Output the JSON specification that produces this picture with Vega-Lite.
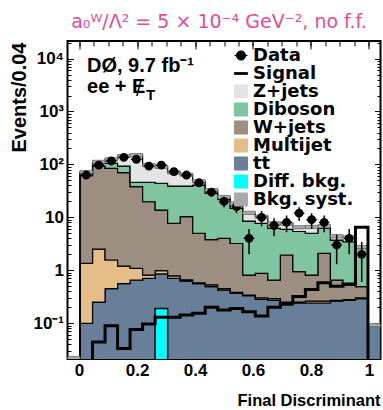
{
  "$schema": "https://vega.github.io/schema/vega-lite/v6.json",
  "width": 313,
  "height": 318,
  "autosize": {"type": "none"},
  "padding": {"left": 67.5, "top": 41, "right": 2.5, "bottom": 51},
  "title": {"text": "a₀ᵂ/Λ² = 5 × 10⁻⁴ GeV⁻², no f.f.", "color": "#e64b9a", "font": "DejaVu Sans", "fontSize": 19, "fontWeight": "normal", "anchor": "middle", "frame": "group", "baseline": "alphabetic", "offset": -6, "dx": -5},
  "config": {
    "view": {"stroke": "black", "strokeWidth": 2},
    "axis": {"labelFont": "Liberation Sans", "labelFontWeight": "bold", "labelColor": "black", "titleFont": "Liberation Sans", "titleFontWeight": "bold", "titleColor": "black", "domain": false, "grid": false, "tickColor": "black", "tickWidth": 1},
    "legend": {"symbolStrokeColor": "black", "symbolStrokeWidth": 1}
  },
  "datasets": {
    "h": [
      {"from": -0.04, "to": 0.0032, "tt̄": 0, "Multijet": 0, "W+jets": 0, "Diboson": 0, "Z+jets": 0.022, "signal": 0, "diffbkg": 0, "data": null, "err": null, "syst": 0.0015},
      {"from": 0.0032, "to": 0.0464, "tt̄": 0.099, "Multijet": 1.25, "W+jets": 59.65, "Diboson": 7, "Z+jets": 4, "signal": 0, "diffbkg": 0, "data": 63, "err": 7.9, "syst": 5.0},
      {"from": 0.0464, "to": 0.0896, "tt̄": 0.25, "Multijet": 2.25, "W+jets": 90.5, "Diboson": 12, "Z+jets": 7, "signal": 0.044, "diffbkg": 0, "data": 97, "err": 9.8, "syst": 7.8},
      {"from": 0.0896, "to": 0.1328, "tt̄": 0.45, "Multijet": 1.11, "W+jets": 82.44, "Diboson": 21, "Z+jets": 20, "signal": 0.089, "diffbkg": 0, "data": 116, "err": 10.8, "syst": 8.7},
      {"from": 0.1328, "to": 0.176, "tt̄": 0.56, "Multijet": 0.64, "W+jets": 68.8, "Diboson": 23, "Z+jets": 51, "signal": 0.033, "diffbkg": 0, "data": 136, "err": 11.7, "syst": 10},
      {"from": 0.176, "to": 0.2192, "tt̄": 0.65, "Multijet": 0.43, "W+jets": 36.92, "Diboson": 8, "Z+jets": 104, "signal": 0.076, "diffbkg": 0, "data": 125, "err": 11.2, "syst": 10.5},
      {"from": 0.2192, "to": 0.2624, "tt̄": 0.7, "Multijet": 0.11, "W+jets": 18.89, "Diboson": 26.3, "Z+jets": 51, "signal": 0.096, "diffbkg": 0, "data": 93, "err": 9.6, "syst": 6.8},
      {"from": 0.2624, "to": 0.3056, "tt̄": 0.85, "Multijet": 0.13, "W+jets": 12.72, "Diboson": 30.3, "Z+jets": 46, "signal": 0.129, "diffbkg": 0.19, "data": 97, "err": 9.8, "syst": 6.3},
      {"from": 0.3056, "to": 0.3488, "tt̄": 0.7, "Multijet": 0.08, "W+jets": 6.92, "Diboson": 31.3, "Z+jets": 32, "signal": 0.129, "diffbkg": 0, "data": 73, "err": 8.5, "syst": 5},
      {"from": 0.3488, "to": 0.392, "tt̄": 0.62, "Multijet": 0.04, "W+jets": 9.64, "Diboson": 28.7, "Z+jets": 25, "signal": 0.142, "diffbkg": 0, "data": 63, "err": 7.9, "syst": 4.5},
      {"from": 0.392, "to": 0.4352, "tt̄": 0.56, "Multijet": 0.02, "W+jets": 4.42, "Diboson": 35.6, "Z+jets": 7.4, "signal": 0.153, "diffbkg": 0, "data": 45, "err": 6.7, "syst": 3.4},
      {"from": 0.4352, "to": 0.4784, "tt̄": 0.49, "Multijet": 0.04, "W+jets": 3.27, "Diboson": 24.6, "Z+jets": 4.2, "signal": 0.2, "diffbkg": 0, "data": 30, "err": 5.5, "syst": 2.3},
      {"from": 0.4784, "to": 0.5216, "tt̄": 0.42, "Multijet": 0.03, "W+jets": 3.55, "Diboson": 18, "Z+jets": 2.2, "signal": 0.177, "diffbkg": 0, "data": 20, "err": 4.5, "syst": 1.7},
      {"from": 0.5216, "to": 0.5648, "tt̄": 0.37, "Multijet": 0.01, "W+jets": 2.82, "Diboson": 11.6, "Z+jets": 3.6, "signal": 0.19, "diffbkg": 0, "data": 16, "err": 4, "syst": 1.3},
      {"from": 0.5648, "to": 0.608, "tt̄": 0.33, "Multijet": 0.01, "W+jets": 0.47, "Diboson": 7.69, "Z+jets": 3.7, "signal": 0.165, "diffbkg": 0, "data": 4, "err": 2, "syst": 0.85},
      {"from": 0.608, "to": 0.6512, "tt̄": 0.28, "Multijet": 0.02, "W+jets": 0.57, "Diboson": 6.83, "Z+jets": 2.6, "signal": 0.136, "diffbkg": 0, "data": 10, "err": 3.2, "syst": 0.72},
      {"from": 0.6512, "to": 0.6944, "tt̄": 0.27, "Multijet": 0.02, "W+jets": 0.36, "Diboson": 5.55, "Z+jets": 1.5, "signal": 0.2, "diffbkg": 0, "data": 7, "err": 2.6, "syst": 0.54},
      {"from": 0.6944, "to": 0.7376, "tt̄": 0.22, "Multijet": 0.01, "W+jets": 1.71, "Diboson": 3.96, "Z+jets": 1.7, "signal": 0.24, "diffbkg": 0, "data": 8, "err": 2.8, "syst": 0.53},
      {"from": 0.7376, "to": 0.7808, "tt̄": 0.24, "Multijet": 0.01, "W+jets": 0.69, "Diboson": 4.46, "Z+jets": 1.1, "signal": 0.32, "diffbkg": 0, "data": 12, "err": 3.5, "syst": 0.46},
      {"from": 0.7808, "to": 0.824, "tt̄": 0.24, "Multijet": 0.02, "W+jets": 0.55, "Diboson": 4.19, "Z+jets": 1.6, "signal": 0.43, "diffbkg": 0, "data": 9, "err": 3, "syst": 0.46},
      {"from": 0.824, "to": 0.8672, "tt̄": 0.24, "Multijet": 0.02, "W+jets": 1.82, "Diboson": 4.12, "Z+jets": 0.6, "signal": 0.58, "diffbkg": 0, "data": 8, "err": 2.8, "syst": 0.48},
      {"from": 0.8672, "to": 0.9104, "tt̄": 0.26, "Multijet": 0.01, "W+jets": 0.38, "Diboson": 3.05, "Z+jets": 0.7, "signal": 0.5, "diffbkg": 0, "data": 3, "err": 1.7, "syst": 0.31},
      {"from": 0.9104, "to": 0.9536, "tt̄": 0.27, "Multijet": 0.01, "W+jets": 0.25, "Diboson": 2.92, "Z+jets": 0.75, "signal": 0.55, "diffbkg": 0, "data": 4, "err": 2, "syst": 0.29},
      {"from": 0.9536, "to": 0.9968, "tt̄": 0.29, "Multijet": 0.01, "W+jets": 0.19, "Diboson": 2.11, "Z+jets": 0.15, "signal": 6.5, "diffbkg": 0, "data": 2, "err": 1.4, "syst": 0.19},
      {"from": 0.9968, "to": 1.04, "tt̄": 0.092, "Multijet": 0, "W+jets": 0, "Diboson": 0, "Z+jets": 0, "signal": 0, "diffbkg": 0, "data": null, "err": null, "syst": 0.006}
    ]
  },
  "resolve": {"axis": {"x": "independent", "y": "independent"}},
  "layer": [
    {
      "data": {"name": "h"},
      "transform": [
        {"fold": ["tt̄", "Multijet", "W+jets", "Diboson", "Z+jets"], "as": ["process", "events"]},
        {"calculate": "indexof(['tt̄','Multijet','W+jets','Diboson','Z+jets'], datum.process)", "as": "ord"},
        {"stack": "events", "groupby": ["from"], "sort": [{"field": "ord", "order": "ascending"}], "as": ["s0", "s1"]},
        {"calculate": "max(datum.s0, 0.001)", "as": "lo"},
        {"calculate": "max(datum.s1, 0.001)", "as": "hi"},
        {"fold": ["from", "to"], "as": ["edge", "xpos"]}
      ],
      "mark": {"type": "area", "interpolate": "linear", "stroke": "black", "strokeWidth": 1.2, "opacity": 1, "clip": true},
      "encoding": {
        "x": {"field": "xpos", "type": "quantitative", "scale": {"domain": [-0.04, 1.04], "nice": false, "zero": false},
          "axis": {"orient": "bottom", "values": [0, 0.2, 0.4, 0.6, 0.8, 1], "format": ".1~f", "tickSize": -10, "labelPadding": 13, "labelFontSize": 17, "title": "Final Discriminant", "titleFontSize": 16.5, "titleAlign": "right", "titleAnchor": "end", "titleX": 312.5, "titleY": 46, "titleBaseline": "alphabetic"}},
        "y": {"field": "hi", "type": "quantitative", "scale": {"type": "log", "domain": [0.021, 21500], "nice": false},
          "axis": {"orient": "left", "values": [0.1, 1, 10, 100, 1000, 10000], "labelExpr": "datum.value > 5000 ? '10⁴' : datum.value > 500 ? '10³' : datum.value > 50 ? '10²' : datum.value > 5 ? '10' : datum.value > 0.5 ? '1' : '10⁻¹'", "tickSize": -6, "labelPadding": 10, "labelFontSize": 17, "title": "Events/0.04", "titleFontSize": 20, "titleAngle": -90, "titleAlign": "right", "titleBaseline": "alphabetic", "titleX": -42.5, "titleY": 1}},
        "y2": {"field": "lo"},
        "color": {"field": "process", "type": "nominal",
          "scale": {"domain": ["Data", "Signal", "Z+jets", "Diboson", "W+jets", "Multijet", "tt̄", "Diff. bkg.", "Bkg. syst."],
                    "range": ["black", "black", "#e4e4e4", "#80c4a0", "#9c8f81", "#e5bd89", "#677f98", "#00ffff", "#a9a9a9"]},
          "legend": {"title": null, "orient": "none", "legendX": 164.5, "legendY": 5.5, "padding": 0, "labelFont": "DejaVu Sans", "labelFontWeight": "bold", "labelFontSize": 18, "labelColor": "black", "symbolSize": 170, "symbolStrokeColor": "black", "symbolStrokeWidth": 1, "rowPadding": 0, "labelOffset": 3,
            "encode": {"symbols": {"stroke": {"value": "black"}, "strokeWidth": {"value": 1}, "opacity": {"value": 1}}}}},
        "order": [{"field": "xpos", "type": "quantitative"}, {"field": "edge", "type": "nominal", "sort": "descending"}]
      }
    },
    {
      "data": {"name": "h"},
      "transform": [{"filter": "datum.diffbkg > 0"}],
      "mark": {"type": "rect", "stroke": "black", "strokeWidth": 1.5, "opacity": 1, "clip": true},
      "encoding": {
        "x": {"field": "from", "type": "quantitative", "scale": {"domain": [-0.04, 1.04], "nice": false, "zero": false}, "axis": null},
        "x2": {"field": "to"},
        "y": {"field": "diffbkg", "type": "quantitative", "scale": {"type": "log", "domain": [0.021, 21500], "nice": false}, "axis": null},
        "y2": {"datum": 0.001},
        "color": {"datum": "Diff. bkg."}
      }
    },
    {
      "data": {"name": "h"},
      "transform": [
        {"calculate": "datum['tt̄'] + datum['Multijet'] + datum['W+jets'] + datum['Diboson'] + datum['Z+jets']", "as": "total"},
        {"calculate": "datum.total - datum.syst", "as": "bl"},
        {"calculate": "datum.total + datum.syst", "as": "bh"}
      ],
      "mark": {"type": "rect", "stroke": "#6a6a6a", "strokeWidth": 0.8, "opacity": 1, "clip": true},
      "encoding": {
        "x": {"field": "from", "type": "quantitative", "scale": {"domain": [-0.04, 1.04], "nice": false, "zero": false},
          "axis": {"orient": "bottom", "values": [0, 0.05, 0.1, 0.15, 0.2, 0.25, 0.3, 0.35, 0.4, 0.45, 0.5, 0.55, 0.6, 0.65, 0.7, 0.75, 0.8, 0.85, 0.9, 0.95, 1], "tickSize": -6, "labels": false, "title": null}},
        "x2": {"field": "to"},
        "y": {"field": "bh", "type": "quantitative", "scale": {"type": "log", "domain": [0.021, 21500], "nice": false},
          "axis": {"orient": "left", "values": [0.03, 0.04, 0.05, 0.06, 0.07, 0.08, 0.09, 0.2, 0.3, 0.4, 0.5, 0.6, 0.7, 0.8, 0.9, 2, 3, 4, 5, 6, 7, 8, 9, 20, 30, 40, 50, 60, 70, 80, 90, 200, 300, 400, 500, 600, 700, 800, 900, 2000, 3000, 4000, 5000, 6000, 7000, 8000, 9000, 20000], "tickSize": -3.5, "labels": false, "title": null}},
        "y2": {"field": "bl"},
        "color": {"datum": "Bkg. syst."}
      }
    },
    {
      "data": {"name": "h"},
      "transform": [
        {"calculate": "max(datum.signal, 0.001)", "as": "sig"},
        {"fold": ["from", "to"], "as": ["edge", "xpos"]}
      ],
      "mark": {"type": "line", "strokeWidth": 3, "interpolate": "linear", "clip": true},
      "encoding": {
        "x": {"field": "xpos", "type": "quantitative", "scale": {"domain": [-0.04, 1.04], "nice": false, "zero": false},
          "axis": {"orient": "top", "values": [0, 0.2, 0.4, 0.6, 0.8, 1], "tickSize": -8, "labels": false, "title": null}},
        "y": {"field": "sig", "type": "quantitative", "scale": {"type": "log", "domain": [0.021, 21500], "nice": false},
          "axis": {"orient": "right", "values": [0.1, 1, 10, 100, 1000, 10000], "tickSize": -6, "labels": false, "title": null}},
        "color": {"datum": "Signal"},
        "order": [{"field": "xpos", "type": "quantitative"}, {"field": "edge", "type": "nominal", "sort": "descending"}]
      }
    },
    {
      "data": {"name": "h"},
      "transform": [
        {"filter": "isValid(datum.data)"},
        {"calculate": "(datum.from + datum.to) / 2", "as": "c"},
        {"calculate": "datum.data - datum.err", "as": "dl"},
        {"calculate": "datum.data + datum.err", "as": "dh"}
      ],
      "mark": {"type": "rule", "color": "black", "strokeWidth": 1.5, "clip": true},
      "encoding": {
        "x": {"field": "c", "type": "quantitative", "scale": {"domain": [-0.04, 1.04], "nice": false, "zero": false},
          "axis": {"orient": "top", "values": [0, 0.05, 0.1, 0.15, 0.2, 0.25, 0.3, 0.35, 0.4, 0.45, 0.5, 0.55, 0.6, 0.65, 0.7, 0.75, 0.8, 0.85, 0.9, 0.95, 1], "tickSize": -5, "labels": false, "title": null}},
        "y": {"field": "dh", "type": "quantitative", "scale": {"type": "log", "domain": [0.021, 21500], "nice": false},
          "axis": {"orient": "right", "values": [0.03, 0.04, 0.05, 0.06, 0.07, 0.08, 0.09, 0.2, 0.3, 0.4, 0.5, 0.6, 0.7, 0.8, 0.9, 2, 3, 4, 5, 6, 7, 8, 9, 20, 30, 40, 50, 60, 70, 80, 90, 200, 300, 400, 500, 600, 700, 800, 900, 2000, 3000, 4000, 5000, 6000, 7000, 8000, 9000, 20000], "tickSize": -3.5, "labels": false, "title": null}},
        "y2": {"field": "dl"}
      }
    },
    {
      "data": {"name": "h"},
      "transform": [
        {"filter": "isValid(datum.data)"},
        {"calculate": "(datum.from + datum.to) / 2", "as": "c"}
      ],
      "mark": {"type": "point", "filled": true, "size": 110, "stroke": "black", "strokeWidth": 1.5, "opacity": 1, "clip": true},
      "encoding": {
        "x": {"field": "c", "type": "quantitative", "scale": {"domain": [-0.04, 1.04], "nice": false, "zero": false}, "axis": null},
        "y": {"field": "data", "type": "quantitative", "scale": {"type": "log", "domain": [0.021, 21500], "nice": false}, "axis": null},
        "color": {"datum": "Data"},
        "shape": {"datum": "Data",
          "scale": {"domain": ["Data", "Signal", "Z+jets", "Diboson", "W+jets", "Multijet", "tt̄", "Diff. bkg.", "Bkg. syst."],
                    "range": ["M-1,0H1M0.7,0A0.7,0.7,0,1,1,-0.7,0A0.7,0.7,0,1,1,0.7,0Z", "M-1,-0.13H1V0.13H-1Z", "square", "square", "square", "square", "square", "square", "M-1,-1H1V1H-1ZM-1,-1L1,1M-1,-0.33L0.33,1M-0.33,-1L1,0.33M-1,0.33L-0.33,1M0.33,-1L1,-0.33"]},
          "legend": {"title": null, "orient": "none", "legendX": 164.5, "legendY": 5.5, "padding": 0, "labelFont": "DejaVu Sans", "labelFontWeight": "bold", "labelFontSize": 18, "labelColor": "black", "symbolSize": 170, "symbolStrokeColor": "black", "symbolStrokeWidth": 1, "rowPadding": 0, "labelOffset": 3,
            "encode": {"symbols": {"stroke": {"value": "black"}, "strokeWidth": {"value": 1}, "opacity": {"value": 1}}}}}
      }
    },
    {
      "data": {"values": [{}]},
      "mark": {"type": "text", "text": "DØ, 9.7 fb⁻¹", "font": "Liberation Sans", "fontWeight": "bold", "fontSize": 20, "align": "left", "baseline": "alphabetic", "color": "black"},
      "encoding": {
        "x": {"datum": 0.0273, "type": "quantitative", "scale": {"domain": [-0.04, 1.04], "nice": false, "zero": false}, "axis": null},
        "y": {"datum": 5700, "type": "quantitative", "scale": {"type": "log", "domain": [0.021, 21500], "nice": false}, "axis": null}
      }
    },
    {
      "data": {"values": [{}]},
      "mark": {"type": "text", "text": "ee + E", "font": "Liberation Sans", "fontWeight": "bold", "fontSize": 20, "align": "left", "baseline": "alphabetic", "color": "black"},
      "encoding": {
        "x": {"datum": 0.0273, "type": "quantitative", "scale": {"domain": [-0.04, 1.04], "nice": false, "zero": false}, "axis": null},
        "y": {"datum": 2190, "type": "quantitative", "scale": {"type": "log", "domain": [0.021, 21500], "nice": false}, "axis": null}
      }
    },
    {
      "data": {"values": [{}]},
      "mark": {"type": "text", "text": "/", "font": "Liberation Sans", "fontWeight": "normal", "fontSize": 20, "align": "center", "baseline": "alphabetic", "color": "black"},
      "encoding": {
        "x": {"datum": 0.2057, "type": "quantitative", "scale": {"domain": [-0.04, 1.04], "nice": false, "zero": false}, "axis": null},
        "y": {"datum": 2000, "type": "quantitative", "scale": {"type": "log", "domain": [0.021, 21500], "nice": false}, "axis": null}
      }
    },
    {
      "data": {"values": [{}]},
      "mark": {"type": "text", "text": "T", "font": "Liberation Sans", "fontWeight": "bold", "fontSize": 15, "align": "left", "baseline": "alphabetic", "color": "black"},
      "encoding": {
        "x": {"datum": 0.2309, "type": "quantitative", "scale": {"domain": [-0.04, 1.04], "nice": false, "zero": false}, "axis": null},
        "y": {"datum": 1650, "type": "quantitative", "scale": {"type": "log", "domain": [0.021, 21500], "nice": false}, "axis": null}
      }
    }
  ]
}
